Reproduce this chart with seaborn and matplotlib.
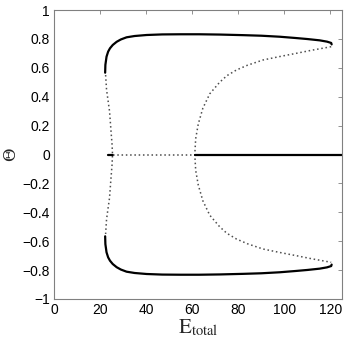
import matplotlib
matplotlib.use("Agg")
import matplotlib.pyplot as plt
import seaborn as sns
import pandas as pd

# ---------------------------------------------------------------------------
# Data (bifurcation diagram, Theta vs E_total)
# ---------------------------------------------------------------------------
# stable upper branch
upper_E = [22.2, 22.3, 22.8, 23.5, 24.3, 25.5, 27.2, 29.0, 31.5, 35.0, 40.2,
           47.0, 55.0, 63.0, 72.0, 82.0, 90.0, 98.0, 105.0, 110.0, 115.3,
           118.5, 120.3, 120.5]
upper_theta = [0.566, 0.62, 0.677, 0.712, 0.735, 0.758, 0.780, 0.796, 0.811,
               0.820, 0.827, 0.831, 0.832, 0.832, 0.830, 0.826, 0.822, 0.815,
               0.806, 0.799, 0.790, 0.781, 0.772, 0.762]

# stable lower branch
lower_E = [22.2, 22.3, 22.8, 23.5, 24.3, 25.5, 27.2, 29.0, 31.5, 35.0, 40.2,
           47.0, 55.0, 63.0, 72.0, 82.0, 90.0, 98.0, 105.0, 110.0, 115.3,
           118.5, 120.3, 120.5]
lower_theta = [-0.566, -0.62, -0.677, -0.712, -0.735, -0.758, -0.780, -0.796,
               -0.811, -0.820, -0.827, -0.831, -0.832, -0.832, -0.830, -0.826,
               -0.822, -0.815, -0.806, -0.799, -0.790, -0.781, -0.772, -0.762]

# unstable branch near the left fold
left_unst_E = [22.4, 22.8, 23.4, 24.1, 24.8, 25.2, 25.4, 25.2, 24.8, 24.1,
               23.4, 22.8, 22.4]
left_unst_theta = [0.55, 0.45, 0.38, 0.30, 0.15, 0.07, 0.0, -0.07, -0.15,
                   -0.30, -0.38, -0.45, -0.55]

# unstable branch from the pitchfork at E~61 to the right fold
right_unst_E = [120.3, 112.0, 105.1, 98.0, 90.7, 84.0, 79.2, 75.0, 71.9, 67.6,
                64.6, 62.6, 61.5, 61.1, 61.5, 62.6, 64.6, 67.6, 71.9, 75.0,
                79.2, 84.0, 90.7, 98.0, 105.1, 112.0, 120.3]
right_unst_theta = [0.746, 0.722, 0.700, 0.678, 0.654, 0.618, 0.585, 0.545,
                    0.500, 0.420, 0.320, 0.210, 0.110, 0.0, -0.110, -0.210,
                    -0.320, -0.420, -0.500, -0.545, -0.585, -0.618, -0.654,
                    -0.678, -0.700, -0.722, -0.746]

# trivial branch Theta = 0
zero_stable_left_E = [23.5, 25.4]
zero_unstable_E = [25.4, 61.1]
zero_stable_right_E = [61.1, 125.0]

xticks = [0, 20, 40, 60, 80, 100, 120]
yticks = [-1, -0.8, -0.6, -0.4, -0.2, 0, 0.2, 0.4, 0.6, 0.8, 1]
ytick_labels = ['\u22121', '\u22120.8', '\u22120.6', '\u22120.4', '\u22120.2',
                '0', '0.2', '0.4', '0.6', '0.8', '1']


def main():
    sns.set_style('white')
    plt.rcParams['font.family'] = ['Liberation Sans', 'DejaVu Sans']
    plt.rcParams['mathtext.fontset'] = 'stix'

    fig = plt.figure(figsize=(3.46, 3.38), dpi=100)
    ax = fig.add_axes([54 / 346, 39 / 338, 288 / 346, 289 / 338])

    solid = dict(color='black', linewidth=1.6, sort=False, estimator=None, ax=ax)
    dotted = dict(color='0.3', linewidth=1.1, sort=False, estimator=None,
                  ax=ax, linestyle=(0, (1, 1.8)))

    curves = [
        (upper_E, upper_theta, solid),
        (lower_E, lower_theta, solid),
        (left_unst_E, left_unst_theta, dotted),
        (right_unst_E, right_unst_theta, dotted),
        (zero_stable_left_E, [0, 0], solid),
        (zero_unstable_E, [0, 0], dotted),
        (zero_stable_right_E, [0, 0], solid),
    ]
    for xs, ys, style in curves:
        df = pd.DataFrame({'E': xs, 'theta': ys})
        sns.lineplot(data=df, x='E', y='theta', **style)

    ax.set_xlim(0, 125)
    ax.set_ylim(-1, 1)
    ax.set_xticks(xticks)
    ax.set_yticks(yticks)
    ax.set_yticklabels(ytick_labels)

    for side in ['left', 'right', 'top', 'bottom']:
        ax.spines[side].set_visible(True)
        ax.spines[side].set_color('0.5')
        ax.spines[side].set_linewidth(0.8)
    ax.tick_params(direction='in', length=3, width=0.6, color='0.5',
                   top=True, right=True, labelsize=10, labelcolor='black',
                   pad=3)

    ax.set_xlabel(r'$\mathrm{E}_{\mathrm{total}}$', fontsize=15, labelpad=0)
    ax.set_ylabel('\u0398', fontsize=12, family='DejaVu Serif')
    ax.yaxis.set_label_coords(-0.12, 0.5)

    fig.savefig('out.png', dpi=100)
    plt.close(fig)


if __name__ == '__main__':
    main()
